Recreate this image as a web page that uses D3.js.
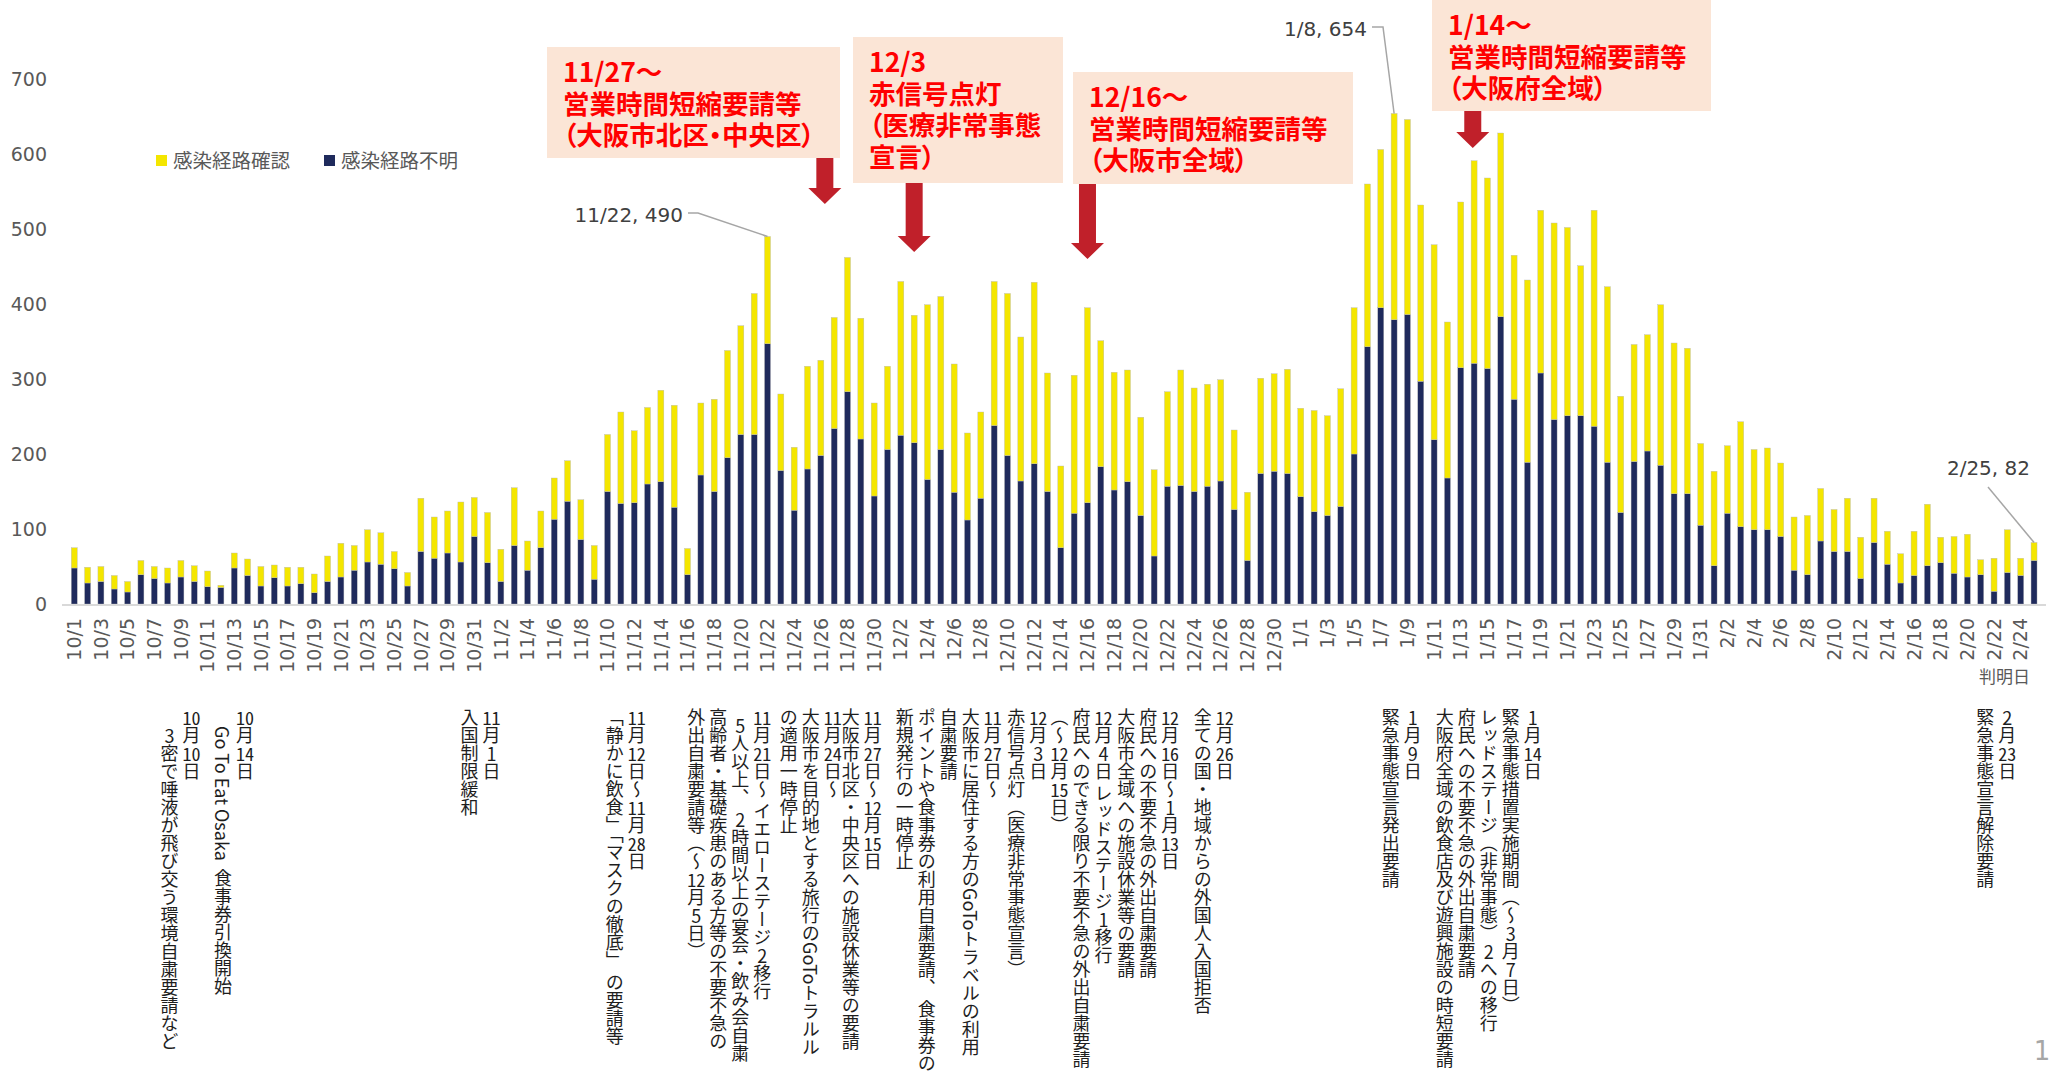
<!DOCTYPE html>
<html lang="ja">
<head>
<meta charset="UTF-8">
<script src="https://cdnjs.cloudflare.com/ajax/libs/d3/7.8.5/d3.min.js"></script>
<style>
  body { margin: 0; background: #fff; }
  #content { position: relative; width: 2053px; height: 1085px; overflow: hidden; }
  #content svg { position: absolute; left: 0; top: 0; }
  .note { position: absolute; writing-mode: vertical-rl; font-family: "Noto Sans CJK JP"; font-size: 18px;
          line-height: 22px; color: #1e1e1e; white-space: pre; transform: translateX(-100%); }
  .tcy { text-combine-upright: all; }
</style>
</head>
<body>
<div id="content"></div>
<script>
// month, days shown
const months = [[10, 31], [11, 30], [12, 31], [1, 31], [2, 25]]

// 感染経路不明 (navy, bottom)
const unknown = [
  48, 28, 30, 20, 16, 39, 34, 28, 36, 30, 23, 22, 48, 38, 24, 35, 24, 27, 15, 30, 36, 45, 56, 53, 47, 24, 70, 61, 68, 56, 90,
  55, 30, 78, 45, 75, 113, 137, 86, 33, 150, 134, 135, 160, 163, 129, 39, 172, 150, 195, 226, 226, 347, 178, 125, 180, 198, 234, 283, 220, 144,
  206, 225, 215, 166, 206, 149, 112, 141, 238, 198, 164, 187, 150, 75, 121, 135, 183, 152, 163, 118, 64, 157, 158, 150, 157, 164, 126, 58, 174, 177, 174,
  143, 123, 118, 130, 200, 343, 395, 379, 386, 297, 219, 168, 315, 321, 314, 383, 273, 189, 308, 246, 251, 251, 237, 189, 122, 190, 204, 185, 147, 147, 105,
  51, 121, 103, 99, 99, 90, 45, 39, 84, 70, 70, 34, 82, 53, 28, 38, 51, 55, 41, 36, 39, 17, 42, 38, 58
]
// 感染経路確認 (yellow, top)
const known = [
  27, 21, 20, 18, 14, 19, 16, 20, 22, 21, 21, 3, 20, 22, 26, 17, 25, 22, 25, 34, 45, 33, 43, 42, 23, 18, 71, 55, 56, 80, 52,
  67, 43, 77, 39, 49, 55, 54, 53, 45, 76, 122, 96, 102, 122, 136, 35, 96, 123, 143, 145, 188, 143, 102, 84, 137, 127, 148, 179, 161, 124,
  111, 205, 170, 233, 204, 171, 116, 115, 192, 216, 192, 242, 158, 109, 184, 260, 168, 157, 149, 131, 115, 126, 154, 138, 136, 135, 106, 91, 127, 130, 139,
  118, 135, 133, 157, 195, 217, 211, 275, 260, 235, 260, 208, 221, 270, 254, 245, 192, 243, 217, 262, 251, 200, 288, 234, 155, 156, 155, 214, 201, 194, 109,
  126, 90, 140, 107, 109, 98, 71, 79, 70, 56, 71, 55, 59, 44, 39, 59, 82, 34, 49, 57, 20, 44, 57, 23, 24
]
const yTicks = [0, 100, 200, 300, 400, 500, 600, 700]
const seriesNames = ['感染経路確認', '感染経路不明']

const callouts = [
  { x: 547, y: 47, w: 293, h: 111, lines: ['11/27～', '営業時間短縮要請等', '（大阪市北区・中央区）'], at: '11/27', shift: -0.7, tip: 204 },
  { x: 853, y: 37, w: 210, h: 146, lines: ['12/3', '赤信号点灯', '（医療非常事態', '宣言）'], at: '12/3', shift: 0, tip: 252 },
  { x: 1073, y: 72, w: 280, h: 112, lines: ['12/16～', '営業時間短縮要請等', '（大阪市全域）'], at: '12/16', shift: 0, tip: 259 },
  { x: 1432, y: 0, w: 279, h: 111, lines: ['1/14～', '営業時間短縮要請等', '（大阪府全域）'], at: '1/14', shift: -0.1, tip: 148 }
]

const notes = [
  { at: '10/10', shift: -0.2, lines: ['10月10日', '　3密で唾液が飛び交う環境自粛要請など'] },
  { at: '10/14', shift: -0.2, lines: ['10月14日', '　Go To Eat Osaka  食事券引換開始'] },
  { at: '11/1', shift: 0.3, lines: ['11月1日', '入国制限緩和'] },
  { at: '11/12', shift: 0.2, lines: ['11月12日～11月28日', '「静かに飲食」「マスクの徹底」 の要請等'] },
  { at: '11/21', shift: 0.6, lines: ['11月21日～ イエローステージ2移行', '  5人以上、 2時間以上の宴会・飲み会自粛', '高齢者・基礎疾患のある方等の不要不急の', '外出自粛要請等（～12月5日）'] },
  { at: '11/24', shift: 2.9, lines: ['11月24日～', '大阪市を目的地とする旅行のGoToトラルル', 'の適用一時停止'] },
  { at: '11/27', shift: 2.9, lines: ['11月27日～12月15日', '大阪市北区・中央区への施設休業等の要請'] },
  { at: '11/27', shift: 11.9, lines: ['11月27日～', '大阪市に居住する方のGoToトラベルの利用', '自粛要請', 'ポイントや食事券の利用自粛要請、 食事券の', '新規発行の一時停止'] },
  { at: '12/3', shift: 9.3, lines: ['12月3日', '赤信号点灯（医療非常事態宣言）'] },
  { at: '12/4', shift: 13.2, lines: ['12月4日 レッドステージ1移行', '府民へのできる限り不要不急の外出自粛要請', '（～12月15日）'] },
  { at: '12/16', shift: 6.2, lines: ['12月16日～1月13日', '府民への不要不急の外出自粛要請', '大阪市全域への施設休業等の要請'] },
  { at: '12/26', shift: 0.3, lines: ['12月26日', '全ての国・地域からの外国人入国拒否'] },
  { at: '1/9', shift: 0.4, lines: ['1月9日', '緊急事態宣言発出要請'] },
  { at: '1/14', shift: 4.4, lines: ['1月14日', '緊急事態措置実施期間（～3月7日）', 'レッドステージ（非常事態）2への移行', '府民への不要不急の外出自粛要請', '大阪府全域の飲食店及び遊興施設の時短要請'] },
  { at: '2/23', shift: 0, lines: ['2月23日', '緊急事態宣言解除要請'] }
]

const dates = []
months.forEach(([m, n]) => { for (let d = 1; d <= n; d++) dates.push(`${m}/${d}`) })
const dataset = dates.map((d, i) => ({ date: d, unknown: unknown[i], known: known[i] }))

const width = 2053
const height = 1085
const yellow = '#f4e600'
const navy = '#1f2a5c'

const x = d3.scaleBand().domain(dates).range([67.6, 2040.7]).paddingInner(0.55).paddingOuter(0.275)
const y = d3.scaleLinear().domain([0, 700]).range([604, 79])
const cx = d => x(d) + x.bandwidth() / 2

const svg = d3.select('#content').append('svg')
  .attr('width', width)
  .attr('height', height)
  .style('font-family', '"DejaVu Sans", "Noto Sans CJK JP", sans-serif')

//-Bars
const stack = d3.stack().keys(['unknown', 'known'])(dataset)
svg.append('g').selectAll('g')
  .data(stack)
  .join('g')
  .attr('fill', s => s.key === 'unknown' ? navy : yellow)
  .selectAll('rect')
  .data(s => s)
  .join('rect')
  .attr('x', d => x(d.data.date))
  .attr('width', x.bandwidth())
  .attr('y', d => y(d[1]))
  .attr('height', d => y(d[0]) - y(d[1]))
  .attr('stroke', '#b8b8b8')
  .attr('stroke-width', 0.4)

//-Axis
svg.append('line')
  .attr('x1', 62).attr('x2', 2046)
  .attr('y1', y(0) + 1).attr('y2', y(0) + 1)
  .attr('stroke', '#d9d9d9').attr('stroke-width', 2)

const yAxis = svg.append('g')
  .attr('transform', 'translate(55,0)')
  .call(d3.axisLeft(y).tickValues(yTicks).tickSize(0).tickPadding(8))
yAxis.select('.domain').remove()
yAxis.selectAll('text').style('font-size', '19px').attr('fill', '#595959').style('font-family', '"DejaVu Sans"')

const xAxis = svg.append('g')
  .attr('transform', `translate(0,${y(0)})`)
  .call(d3.axisBottom(x).tickValues(dates.filter((d, i) => i % 2 === 0)).tickSize(0))
xAxis.select('.domain').remove()
xAxis.selectAll('text')
  .attr('transform', 'rotate(-90)')
  .attr('x', -14).attr('y', 0).attr('dy', '0.35em')
  .attr('text-anchor', 'end')
  .style('font-size', '19px')
  .style('font-family', '"DejaVu Sans"')
  .attr('fill', '#595959')

svg.append('text')
  .text('判明日')
  .attr('x', 2030).attr('y', 683)
  .attr('text-anchor', 'end')
  .style('font-size', '17px')
  .attr('fill', '#595959')

//-Legend
const legend = svg.append('g').attr('transform', 'translate(156,155)')
const legendItems = [{ name: seriesNames[0], color: yellow, dx: 0 }, { name: seriesNames[1], color: navy, dx: 168 }]
legendItems.forEach(o => {
  legend.append('rect').attr('x', o.dx).attr('y', 0).attr('width', 11).attr('height', 11).attr('fill', o.color)
  legend.append('text').text(o.name).attr('x', o.dx + 17).attr('y', 13)
    .style('font-size', '19.5px').attr('fill', '#595959')
})

//-Data labels
const labels = [
  { date: '11/22', text: '11/22, 490', tx: 683, ty: 222, pts: [[688, 213], [698, 213]] },
  { date: '1/8', text: '1/8, 654', tx: 1367, ty: 36, pts: [[1372, 27], [1383, 27]] },
  { date: '2/25', text: '2/25, 82', tx: 2030, ty: 475, pts: [[1988, 487]] }
]
labels.forEach(o => {
  const d = dataset.find(r => r.date === o.date)
  const pts = o.pts.concat([[cx(o.date), y(d.unknown + d.known)]])
  svg.append('path')
    .attr('d', d3.line()(pts))
    .attr('fill', 'none').attr('stroke', '#a6a6a6').attr('stroke-width', 1.5)
  svg.append('text').text(o.text)
    .attr('x', o.tx).attr('y', o.ty)
    .attr('text-anchor', 'end')
    .style('font-size', '20px')
    .style('font-family', '"DejaVu Sans"')
    .attr('fill', '#404040')
})

//-Callouts
callouts.forEach(o => {
  const g = svg.append('g')
  g.append('rect').attr('x', o.x).attr('y', o.y).attr('width', o.w).attr('height', o.h).attr('fill', '#fbe5d6')
  o.lines.forEach((t, i) => {
    g.append('text').text(t)
      .attr('x', o.x + 16).attr('y', o.y + 35 + i * 31.5)
      .style('font-family', '"Noto Sans CJK JP"')
      .style('font-weight', 'bold')
      .style('font-size', '26.5px')
      .style('font-feature-settings', '"palt"')
      .attr('fill', '#ff0000')
  })
  const ax = cx(o.at) + o.shift * x.step()
  const top = o.y + o.h
  const hy = o.tip - 16
  g.append('path')
    .attr('d', d3.line()([[ax - 8.5, top], [ax + 8.5, top], [ax + 8.5, hy], [ax + 16.5, hy], [ax, o.tip], [ax - 16.5, hy], [ax - 8.5, hy]]) + 'Z')
    .attr('fill', '#c0202a')
})

//-Notes below the axis
const wrapDigits = s => s.replace(/&/g, '&amp;').replace(/</g, '&lt;').replace(/(\d+)/g, '<span class="tcy">$1</span>')
notes.forEach(o => {
  const colX = cx(o.at) + o.shift * x.step()
  d3.select('#content').append('div')
    .attr('class', 'note')
    .style('left', `${colX + 11}px`)
    .style('top', '708px')
    .html(o.lines.map(wrapDigits).join('<br>'))
})

svg.append('text').text('1')
  .attr('x', 2042).attr('y', 1060)
  .attr('text-anchor', 'middle')
  .style('font-size', '26px')
  .attr('fill', '#a6a6a6')
</script>
</body>
</html>
